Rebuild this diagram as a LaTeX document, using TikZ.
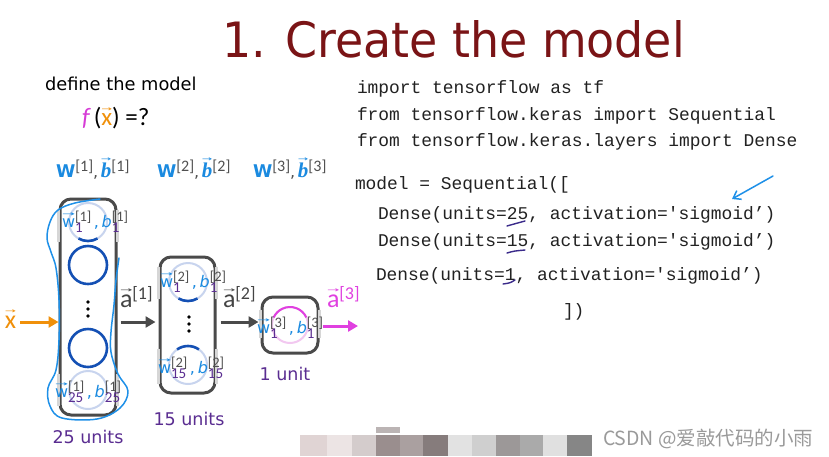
\documentclass[tikz,border=0pt]{standalone}
\usepackage{graphicx}
\usepackage{fontspec}
\setmainfont{DejaVu Sans}
\setmonofont{Liberation Mono}
\newfontfamily\carl{Carlito}
\newfontfamily\lserif{Liberation Serif}
\newfontfamily\cjk{Noto Sans CJK SC}
\usetikzlibrary{arrows.meta,calc}

\definecolor{titlered}{HTML}{7A1416}
\definecolor{wblue}{HTML}{1A8AE0}
\definecolor{subpur}{HTML}{5A2D91}
\definecolor{supgray}{HTML}{505050}
\definecolor{circdark}{HTML}{1450B4}
\definecolor{circlight}{HTML}{C8D4EE}
\definecolor{edgedark}{HTML}{4A4A4A}
\definecolor{edgelight}{HTML}{D6D6D6}
\definecolor{fmag}{HTML}{D63CD6}
\definecolor{amag}{HTML}{E040E0}
\definecolor{pinklight}{HTML}{F2C8F0}
\definecolor{xorange}{HTML}{F0900A}
\definecolor{agray}{HTML}{444444}
\definecolor{codeblack}{HTML}{222222}
\definecolor{scribblue}{HTML}{1E90E8}
\definecolor{ulpur}{HTML}{3A2A8A}
\definecolor{wmgray}{HTML}{9A9A9A}
\definecolor{bk1}{HTML}{E0D4D4}
\definecolor{bk2}{HTML}{ECE4E4}
\definecolor{bk3}{HTML}{D4CCCC}
\definecolor{bk4}{HTML}{9A8E8E}
\definecolor{bk5}{HTML}{AAA0A0}
\definecolor{bk6}{HTML}{867C7C}
\definecolor{bk7}{HTML}{E2E2E2}
\definecolor{bk8}{HTML}{CFCFCF}
\definecolor{bk9}{HTML}{9C9898}
\definecolor{bk10}{HTML}{AAAAAA}
\definecolor{bk11}{HTML}{E0E0E0}
\definecolor{bk12}{HTML}{868686}
\definecolor{bk13}{HTML}{BBB4B4}

\newcommand\fs[1]{\fontsize{#1}{#1}\selectfont}
% letter with a thin arrow above it
\newcommand\vecar[2][1.5pt]{\setbox0\hbox{#2}\leavevmode\rlap{\raisebox{\dimexpr\ht0+#1\relax}{\resizebox{\wd0}{3.6pt}{\rmfamily\upshape\mdseries →}}}\box0}
\newcommand\supsub[2]{\rlap{\raisebox{-5pt}{\carl\fs{15}\color{subpur}#2}}\raisebox{6pt}{\carl\fs{14.5}\color{supgray}#1}}
\newcommand\wblab[2]{{\color{wblue}\fs{16}\vecar{w}}\supsub{[#2]}{#1}{\color{wblue}\fs{16}\,,\,}{\color{wblue}\fs{16}\itshape b}\supsub{[#2]}{#1}}
\newcommand\Wlab[1]{{\color{wblue}\bfseries\fs{17.5}W}\raisebox{5.5pt}{\carl\fs{16}\color{supgray}[#1]}{\color{supgray}\fs{16},\,}{\color{wblue}\lserif\bfseries\itshape\fs{21}\vecar[1pt]{b}}\raisebox{5.5pt}{\carl\fs{16}\color{supgray}[#1]}}

\tikzset{
  txt/.style={anchor=base west, inner sep=0pt, outer sep=0pt},
  code/.style={txt, font=\ttfamily\fs{17.9}, text=codeblack},
  layerbox/.style={draw=edgedark, line width=3pt, rounded corners=11pt, inner sep=0pt},
  lightedge/.style={draw=edgelight, line width=3.2pt},
  darkcirc/.style={circle, draw=circdark, line width=2.6pt, minimum size=38pt, inner sep=0pt},
  lightcirc/.style={circle, draw=circlight, line width=2pt, minimum size=38pt, inner sep=0pt},
  darkarc/.style={draw=circdark, line width=2.6pt},
  bigarrow/.style={line width=3pt, -{Triangle[length=10pt,width=11pt]}},
  scrib/.style={draw=scribblue, line width=1.5pt, line cap=round, line join=round},
  ul/.style={draw=ulpur, line width=1.4pt, line cap=round},
  unitlab/.style={anchor=base, inner sep=0pt, font=\fs{17.5}, text=subpur},
}

\begin{document}
\begin{tikzpicture}[x=1pt,y=-1pt]
\useasboundingbox[fill=white] (0,0) rectangle (829,456);

% title
\node[txt, text=titlered] (title) at (222,57) {\resizebox{463pt}{37pt}{1. Create the model}};

% left text
\node[txt] (define) at (45,90) {\fs{17.8}define the model};
\node[txt] (fx) at (82,125) {\carl\fs{25}{\color{fmag}\itshape f\,}({\color{xorange}\vecar[2pt]{x}}) =?};

\node[txt] (W1) at (56,177) {\Wlab{1}};
\node[txt] (W2) at (157,177) {\Wlab{2}};
\node[txt] (W3) at (253,177) {\Wlab{3}};

% layer boxes
\node[layerbox, minimum width=56pt, minimum height=216pt] (L1) at (88,307) {};
\node[layerbox, minimum width=55pt, minimum height=136pt] (L2) at (187.5,325) {};
\node[layerbox, minimum width=56pt, minimum height=56pt] (L3) at (290,325) {};

% faded parts of box sides
\draw[lightedge] ([yshift=-12pt]L1.north west) -- ([yshift=-44pt]L1.north west);
\draw[lightedge] ([yshift=-12pt]L1.north east) -- ([yshift=-44pt]L1.north east);
\draw[lightedge] ([yshift=43pt]L1.south west) -- ([yshift=11pt]L1.south west);
\draw[lightedge] ([yshift=43pt]L1.south east) -- ([yshift=11pt]L1.south east);
\draw[lightedge] ([yshift=-11pt]L2.north west) -- ([yshift=-43pt]L2.north west);
\draw[lightedge] ([yshift=-11pt]L2.north east) -- ([yshift=-43pt]L2.north east);
\draw[lightedge] ([yshift=46pt]L2.south west) -- ([yshift=11pt]L2.south west);
\draw[lightedge] ([yshift=46pt]L2.south east) -- ([yshift=11pt]L2.south east);
\draw[lightedge] ([yshift=-14pt]L3.north west) -- ([yshift=-42pt]L3.north west);
\draw[lightedge] ([yshift=-14pt]L3.north east) -- ([yshift=-42pt]L3.north east);

% layer 1 units
\node[lightcirc] (c11) at (88,222) {};
\draw[darkarc] (c11) ++(240:19pt) arc[start angle=240, end angle=300, radius=19pt];
\node[darkcirc] (c12) at (88,265) {};
\fill[black] (88,302) circle (1.9pt) (88,309) circle (1.9pt) (88,316) circle (1.9pt);
\node[darkcirc] (c13) at (88,348) {};
\node[lightcirc] (c14) at (88,390) {};

% layer 2 units
\node[lightcirc] (c21) at (188,282) {};
\draw[darkarc] (c21) ++(240:19pt) arc[start angle=240, end angle=300, radius=19pt];
\fill[black] (189,317) circle (1.9pt) (189,324) circle (1.9pt) (189,331) circle (1.9pt);
\node[lightcirc] (c22) at (188,365) {};
\draw[darkarc] (c22) ++(55:19pt) arc[start angle=55, end angle=125, radius=19pt];

% layer 3 unit
\node[circle, draw=pinklight, line width=2pt, minimum size=36pt, inner sep=0pt] (c31) at (290,325) {};
\draw[draw=amag, line width=2pt] (c31) ++(25:18pt) arc[start angle=25, end angle=155, radius=18pt];

% unit labels
\node[txt] (w11) at (62,227) {\wblab{1}{1}};
\node[txt] (w125) at (55,397) {\wblab{25}{1}};
\node[txt] (w21) at (160,287) {\wblab{1}{2}};
\node[txt] (w215) at (158,373) {\wblab{15}{2}};
\node[txt] (w31) at (257,333) {\wblab{1}{3}};

% arrows
\node[txt] (xl) at (5,328) {\carl\fs{26}\color{xorange}\vecar[2pt]{x}};
\coordinate (xin) at (20,322);
\draw[bigarrow, draw=xorange, fill=xorange] (xin) -- (xin -| L1.west);
\draw[bigarrow, draw=edgedark, fill=edgedark, shorten <=3pt, shorten >=3pt] ([yshift=-15pt]L1.east) -- ([yshift=3pt]L2.west);
\draw[bigarrow, draw=edgedark, fill=edgedark, shorten <=4pt, shorten >=2pt] ([yshift=3pt]L2.east) -- ([yshift=3pt]L3.west);
\coordinate (yout) at (358,326);
\draw[bigarrow, draw=amag, fill=amag, shorten <=3pt] (yout -| L3.east) -- (yout);

\node[txt] (a1) at (120,307) {\carl\fs{26}\color{agray}\vecar[2pt]{a}\raisebox{8pt}{\fs{18}[1]}};
\node[txt] (a2) at (223,307) {\carl\fs{26}\color{agray}\vecar[2pt]{a}\raisebox{8pt}{\fs{18}[2]}};
\node[txt] (a3) at (327,307) {\carl\fs{26}\color{amag}\vecar[2pt]{a}\raisebox{8pt}{\fs{18}[3]}};

% unit counts
\node[unitlab] (u1) at (88,443) {25 units};
\node[unitlab] (u2) at (189,425) {15 units};
\node[unitlab] (u3) at (285,380) {1 unit};

% scribble around layer 1
\draw[scrib] plot[smooth, tension=0.6] coordinates {(100,199) (75,203) (58,210) (50,222) (47,238) (51,252) (56,268) (59,300) (59,340) (56,370) (48,388) (50,406) (62,418) (97,419) (120,408) (128,391) (118,374) (111,352) (111,332) (114,305) (116,280) (119,258)};

% code
\node[code] (k1) at (357,93) {import tensorflow as tf};
\node[code] (k2) at (357,120) {from tensorflow.keras import Sequential};
\node[code] (k3) at (357,146) {from tensorflow.keras.layers import Dense};
\node[code] (k4) at (355,189) {model = Sequential([};
\node[code] (k5) at (378,219) {Dense(units=25, activation='sigmoid’)};
\node[code] (k6) at (378,246) {Dense(units=15, activation='sigmoid’)};
\node[code] (k7) at (376,280) {Dense(units=1, activation='sigmoid’)};
\node[code] (k8) at (563,316) {])};

% annotations on code
\draw[ul] (507,226) .. controls (514,224) .. (525,221);
\draw[ul] (507,253) .. controls (514,251) .. (525,250);
\draw[ul] (503,284) .. controls (510,283) .. (515,280);
\coordinate (ba1) at (773,176);
\coordinate (ba2) at (732,199);
\draw[scrib, -{Straight Barb[length=7pt,width=10pt]}] (ba1) -- (ba2);

% blurred strip
\fill[bk1] (300,435) rectangle (327,456);
\fill[bk2] (327,435) rectangle (352,456);
\fill[bk3] (352,435) rectangle (376,456);
\fill[bk4] (376,435) rectangle (400,456);
\fill[bk13] (376,427) rectangle (400,433);
\fill[bk5] (400,435) rectangle (423,456);
\fill[bk6] (423,435) rectangle (448,456);
\fill[bk7] (448,435) rectangle (472,456);
\fill[bk8] (472,435) rectangle (496,456);
\fill[bk9] (496,435) rectangle (520,456);
\fill[bk10] (520,435) rectangle (543,456);
\fill[bk11] (543,435) rectangle (567,456);
\fill[bk12] (567,435) rectangle (592,456);

% watermark
\node[txt, text=wmgray] (wm) at (603,445) {\cjk\fs{19.5}CSDN @爱敲代码的小雨};
\end{tikzpicture}
\end{document}
